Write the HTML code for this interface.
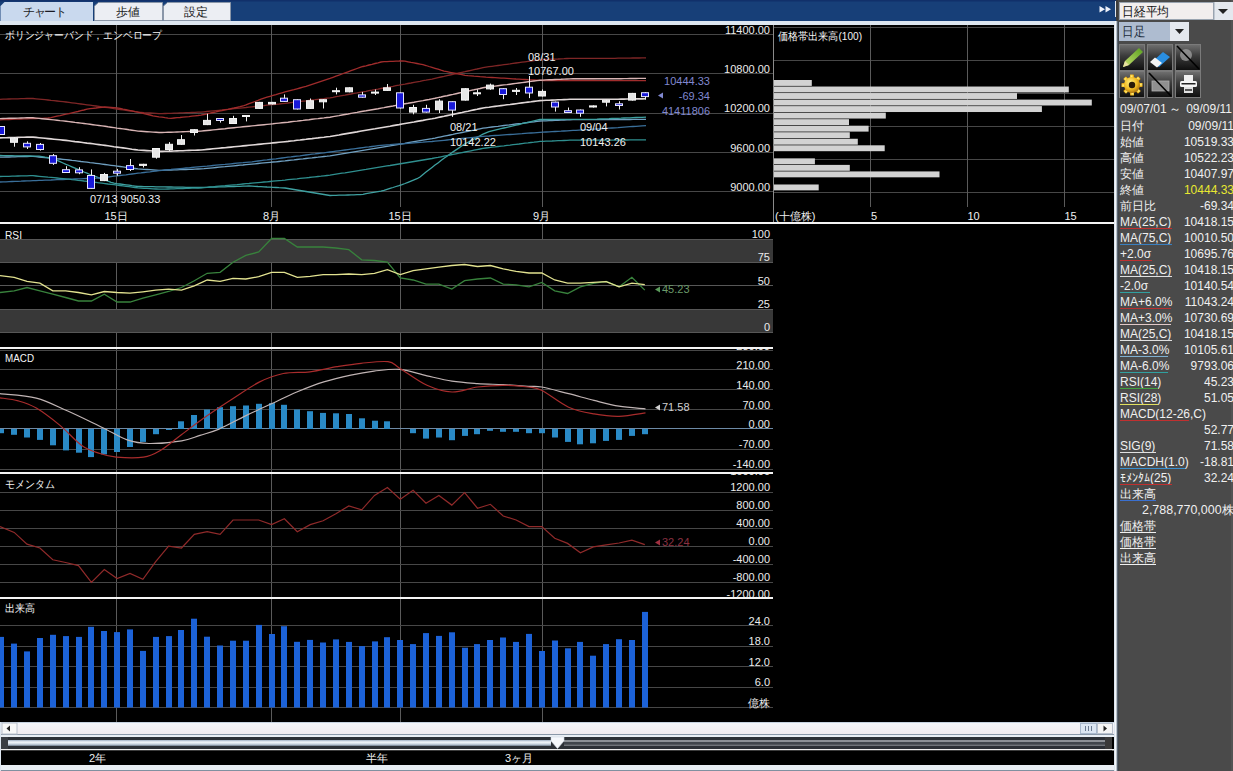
<!DOCTYPE html>
<html><head><meta charset="utf-8">
<style>
html,body{margin:0;padding:0;background:#000;width:1233px;height:771px;overflow:hidden}
svg{display:block}
text{font-family:"Liberation Sans",sans-serif}
.lb{font-size:11px;fill:#ececec;text-anchor:end}
.sb{font-size:12px;fill:#f0f0f0}
.sr{font-size:12px;fill:#f0f0f0;text-anchor:end}
</style></head><body>

<svg width="1233" height="771" viewBox="0 0 1233 771">
<rect x="0" y="0" width="1233" height="771" fill="#000"/>
<rect x="0" y="0" width="1116" height="21" fill="#173f78"/>
<rect x="0" y="0" width="1116" height="1.5" fill="#11306a"/>
<rect x="0" y="21" width="1117" height="4" fill="#dde6f0"/>
<path d="M0.5 21 V6 L4.5 2 H93 V21 Z" fill="#c9d9ee"/>
<path d="M94.5 20.5 V6 L98.5 2.5 H162.5 V20.5 Z" fill="#eceef3" stroke="#8a96a8" stroke-width="1"/>
<path d="M163.5 20.5 V6 L167.5 2.5 H230.5 V20.5 Z" fill="#eceef3" stroke="#8a96a8" stroke-width="1"/>
<g font-size="12" fill="#1a1a22" text-anchor="middle"><text x="45" y="15.5" textLength="44" lengthAdjust="spacing">チャート</text><text x="128" y="15.5" textLength="24" lengthAdjust="spacing">歩値</text><text x="196" y="15.5" textLength="24" lengthAdjust="spacing">設定</text></g>
<path d="M1099.5 6 L1105 9.3 L1099.5 12.6 Z M1105.5 6 L1111 9.3 L1105.5 12.6 Z" fill="#eef2fa"/>
<rect x="1115" y="1" width="1" height="16" fill="#dfe6f0"/>
<defs><clipPath id="cP"><rect x="0" y="25" width="1114" height="197"/></clipPath><clipPath id="cR"><rect x="0" y="224" width="1114" height="123"/></clipPath><clipPath id="cM"><rect x="0" y="349" width="1114" height="123"/></clipPath><clipPath id="cO"><rect x="0" y="474" width="1114" height="123"/></clipPath><clipPath id="cV"><rect x="0" y="599" width="1114" height="123"/></clipPath></defs>
<g><rect x="0" y="34" width="773" height="1" fill="#474747"/><rect x="0" y="73" width="773" height="1" fill="#474747"/><rect x="0" y="113" width="773" height="1" fill="#474747"/><rect x="0" y="152" width="773" height="1" fill="#474747"/><rect x="0" y="191" width="773" height="1" fill="#474747"/><rect x="774" y="27" width="340" height="1" fill="#474747"/><rect x="774" y="60" width="340" height="1" fill="#474747"/><rect x="774" y="93" width="340" height="1" fill="#474747"/><rect x="774" y="126" width="340" height="1" fill="#474747"/><rect x="774" y="159" width="340" height="1" fill="#474747"/><rect x="774" y="192" width="340" height="1" fill="#474747"/><rect x="870" y="25" width="1" height="197" fill="#5a5a5a"/><rect x="967" y="25" width="1" height="197" fill="#5a5a5a"/><rect x="1064" y="25" width="1" height="197" fill="#5a5a5a"/><rect x="773" y="25" width="1" height="197" fill="#8a8a8a"/><rect x="116" y="25" width="1" height="697" fill="#5a5a5a"/><rect x="271" y="25" width="1" height="697" fill="#5a5a5a"/><rect x="400" y="25" width="1" height="697" fill="#5a5a5a"/><rect x="542" y="25" width="1" height="697" fill="#5a5a5a"/><rect x="0" y="239" width="773" height="23" fill="#383838"/><rect x="0" y="309" width="773" height="23" fill="#383838"/><rect x="0" y="239" width="773" height="1" fill="#575757"/><rect x="0" y="262" width="773" height="1" fill="#575757"/><rect x="0" y="285" width="773" height="1" fill="#575757"/><rect x="0" y="309" width="773" height="1" fill="#575757"/><rect x="0" y="332" width="773" height="1" fill="#575757"/><rect x="0" y="350" width="773" height="1" fill="#474747"/><rect x="0" y="369" width="773" height="1" fill="#474747"/><rect x="0" y="389" width="773" height="1" fill="#474747"/><rect x="0" y="409" width="773" height="1" fill="#474747"/><rect x="0" y="449" width="773" height="1" fill="#474747"/><rect x="0" y="469" width="773" height="1" fill="#474747"/><rect x="0" y="428" width="773" height="1" fill="#6d8aa6"/><rect x="0" y="492" width="773" height="1" fill="#474747"/><rect x="0" y="510" width="773" height="1" fill="#474747"/><rect x="0" y="528" width="773" height="1" fill="#474747"/><rect x="0" y="546" width="773" height="1" fill="#474747"/><rect x="0" y="564" width="773" height="1" fill="#474747"/><rect x="0" y="582" width="773" height="1" fill="#474747"/><rect x="0" y="625" width="773" height="1" fill="#474747"/><rect x="0" y="646" width="773" height="1" fill="#474747"/><rect x="0" y="666" width="773" height="1" fill="#474747"/><rect x="0" y="687" width="773" height="1" fill="#474747"/><rect x="0" y="707" width="773" height="1" fill="#474747"/></g>
<g clip-path="url(#cP)">
<polyline fill="none" stroke="#7e2626" stroke-width="1.3" points="0.0,99.3 3.0,99.2 6.0,99.1 9.0,99.0 12.0,98.9 15.0,98.9 18.0,98.8 21.0,98.7 24.0,98.6 27.0,98.5 30.0,98.4 33.0,98.5 36.0,98.8 39.0,99.1 42.0,99.4 45.0,99.7 48.0,100.0 51.0,100.4 54.0,100.7 57.0,101.0 60.0,101.3 63.0,101.6 66.0,102.0 69.0,102.4 72.0,102.8 75.0,103.2 78.0,103.6 81.0,104.0 84.0,104.4 87.0,104.8 90.0,105.2 93.0,105.6 96.0,106.0 99.0,106.4 102.0,106.8 105.0,107.3 108.0,107.7 111.0,108.1 114.0,108.6 117.0,109.0 120.0,109.5 123.0,109.9 126.0,110.4 129.0,110.8 132.0,111.2 135.0,111.7 138.0,112.1 141.0,112.3 144.0,112.6 147.0,112.8 150.0,113.0 153.0,113.2 156.0,113.4 159.0,113.6 162.0,113.6 165.0,113.5 168.0,113.4 171.0,113.3 174.0,113.2 177.0,113.1 180.0,112.9 183.0,112.8 186.0,112.7 189.0,112.6 192.0,112.5 195.0,112.4 198.0,112.2 201.0,112.1 204.0,111.8 207.0,111.5 210.0,111.2 213.0,110.9 216.0,110.6 219.0,110.3 222.0,110.0 225.0,109.6 228.0,109.3 231.0,109.0 234.0,108.7 237.0,108.4 240.0,108.1 243.0,107.8 246.0,107.5 249.0,107.1 252.0,106.8 255.0,106.5 258.0,106.2 261.0,105.9 264.0,105.6 267.0,105.2 270.0,104.9 273.0,104.6 276.0,104.3 279.0,104.0 282.0,103.6 285.0,103.3 288.0,103.0 291.0,102.6 294.0,102.2 297.0,101.9 300.0,101.5 303.0,101.1 306.0,100.8 309.0,100.4 312.0,100.0 315.0,99.7 318.0,99.3 321.0,98.9 324.0,98.6 327.0,98.2 330.0,97.8 333.0,97.3 336.0,96.7 339.0,96.2 342.0,95.6 345.0,95.1 348.0,94.5 351.0,94.0 354.0,93.4 357.0,92.9 360.0,92.3 363.0,91.8 366.0,91.3 369.0,90.7 372.0,90.2 375.0,89.6 378.0,89.1 381.0,88.5 384.0,88.0 387.0,87.4 390.0,86.8 393.0,86.3 396.0,85.7 399.0,85.2 402.0,84.6 405.0,84.1 408.0,83.5 411.0,83.0 414.0,82.4 417.0,81.8 420.0,81.3 423.0,80.7 426.0,80.2 429.0,79.6 432.0,79.1 435.0,78.4 438.0,77.7 441.0,77.0 444.0,76.4 447.0,75.7 450.0,75.0 453.0,74.3 456.0,73.7 459.0,73.0 462.0,72.3 465.0,71.7 468.0,71.0 471.0,70.3 474.0,69.6 477.0,69.0 480.0,68.3 483.0,67.6 486.0,67.1 489.0,66.7 492.0,66.3 495.0,65.9 498.0,65.5 501.0,65.1 504.0,64.7 507.0,64.3 510.0,63.9 513.0,63.4 516.0,63.0 519.0,62.6 522.0,62.2 525.0,61.8 528.0,61.4 531.0,61.0 534.0,60.6 537.0,60.2 540.0,59.8 543.0,59.6 546.0,59.5 549.0,59.4 552.0,59.2 555.0,59.1 558.0,59.0 561.0,58.8 564.0,58.7 567.0,58.5 570.0,58.4 573.0,58.3 576.0,58.3 579.0,58.3 582.0,58.3 585.0,58.3 588.0,58.3 591.0,58.3 594.0,58.3 597.0,58.3 600.0,58.3 603.0,58.3 606.0,58.3 609.0,58.3 612.0,58.3 615.0,58.3 618.0,58.2 621.0,58.2 624.0,58.2 627.0,58.1 630.0,58.1 633.0,58.0 636.0,58.0 639.0,58.0 642.0,57.9 646.0,57.9"/>
<polyline fill="none" stroke="#a02c2c" stroke-width="1.3" points="0.0,119.8 3.0,119.7 6.0,119.6 9.0,119.5 12.0,119.4 15.0,119.2 18.0,119.1 21.0,119.0 24.0,118.9 27.0,118.8 30.0,118.7 33.0,118.6 36.0,118.5 39.0,118.4 42.0,118.3 45.0,118.1 48.0,118.0 51.0,117.6 54.0,116.9 57.0,116.2 60.0,115.6 63.0,114.9 66.0,114.2 69.0,113.6 72.0,112.9 75.0,112.2 78.0,111.5 81.0,110.7 84.0,110.0 87.0,109.2 90.0,108.6 93.0,108.3 96.0,108.0 99.0,107.6 102.0,107.3 105.0,107.0 108.0,107.2 111.0,107.4 114.0,107.6 117.0,107.8 120.0,108.4 123.0,109.1 126.0,109.7 129.0,110.3 132.0,110.9 135.0,111.6 138.0,112.2 141.0,112.9 144.0,113.6 147.0,114.3 150.0,115.0 153.0,115.8 156.0,116.3 159.0,116.8 162.0,117.2 165.0,117.7 168.0,118.1 171.0,118.3 174.0,118.0 177.0,117.7 180.0,117.5 183.0,117.2 186.0,116.9 189.0,116.6 192.0,116.2 195.0,115.8 198.0,115.5 201.0,115.1 204.0,114.5 207.0,113.8 210.0,113.2 213.0,112.5 216.0,111.9 219.0,111.2 222.0,110.6 225.0,109.9 228.0,109.3 231.0,108.6 234.0,108.0 237.0,107.3 240.0,106.7 243.0,106.0 246.0,104.9 249.0,103.7 252.0,102.6 255.0,101.5 258.0,100.4 261.0,99.2 264.0,98.1 267.0,97.2 270.0,96.3 273.0,95.4 276.0,94.6 279.0,93.7 282.0,92.8 285.0,91.9 288.0,91.1 291.0,90.3 294.0,89.6 297.0,88.8 300.0,88.0 303.0,87.2 306.0,86.4 309.0,85.4 312.0,84.4 315.0,83.4 318.0,82.4 321.0,81.4 324.0,80.4 327.0,79.4 330.0,78.4 333.0,77.3 336.0,76.2 339.0,75.1 342.0,74.0 345.0,72.9 348.0,71.8 351.0,70.7 354.0,69.6 357.0,68.5 360.0,67.4 363.0,66.5 366.0,65.8 369.0,65.0 372.0,64.3 375.0,63.5 378.0,62.8 381.0,62.0 384.0,61.7 387.0,61.6 390.0,61.4 393.0,61.3 396.0,61.1 399.0,61.0 402.0,60.8 405.0,61.2 408.0,61.8 411.0,62.4 414.0,62.9 417.0,63.5 420.0,64.1 423.0,64.7 426.0,65.5 429.0,66.5 432.0,67.4 435.0,68.3 438.0,69.2 441.0,70.2 444.0,71.1 447.0,71.7 450.0,72.3 453.0,72.9 456.0,73.5 459.0,74.1 462.0,74.7 465.0,75.3 468.0,75.6 471.0,75.8 474.0,76.1 477.0,76.3 480.0,76.6 483.0,76.8 486.0,77.1 489.0,77.3 492.0,77.5 495.0,77.7 498.0,77.9 501.0,78.1 504.0,78.2 507.0,78.4 510.0,78.6 513.0,78.8 516.0,79.0 519.0,79.1 522.0,79.3 525.0,79.5 528.0,79.7 531.0,79.8 534.0,80.0 537.0,80.2 540.0,80.4 543.0,80.5 546.0,80.5 549.0,80.5 552.0,80.5 555.0,80.5 558.0,80.5 561.0,80.5 564.0,80.5 567.0,80.5 570.0,80.5 573.0,80.5 576.0,80.5 579.0,80.5 582.0,80.5 585.0,80.5 588.0,80.5 591.0,80.5 594.0,80.5 597.0,80.6 600.0,80.6 603.0,80.6 606.0,80.6 609.0,80.6 612.0,80.6 615.0,80.6 618.0,80.6 621.0,80.6 624.0,80.6 627.0,80.6 630.0,80.6 633.0,80.6 636.0,80.6 639.0,80.6 642.0,80.6 646.0,80.6"/>
<polyline fill="none" stroke="#d8b4b4" stroke-width="1.4" points="0.0,118.6 3.0,118.5 6.0,118.4 9.0,118.3 12.0,118.3 15.0,118.2 18.0,118.1 21.0,118.0 24.0,117.9 27.0,117.8 30.0,117.7 33.0,117.8 36.0,118.1 39.0,118.4 42.0,118.7 45.0,119.0 48.0,119.3 51.0,119.6 54.0,119.9 57.0,120.2 60.0,120.6 63.0,120.9 66.0,121.2 69.0,121.6 72.0,122.0 75.0,122.4 78.0,122.7 81.0,123.1 84.0,123.5 87.0,123.9 90.0,124.3 93.0,124.7 96.0,125.1 99.0,125.5 102.0,125.9 105.0,126.3 108.0,126.8 111.0,127.2 114.0,127.6 117.0,128.1 120.0,128.5 123.0,128.9 126.0,129.3 129.0,129.8 132.0,130.2 135.0,130.6 138.0,131.1 141.0,131.3 144.0,131.5 147.0,131.7 150.0,131.9 153.0,132.1 156.0,132.3 159.0,132.5 162.0,132.5 165.0,132.4 168.0,132.3 171.0,132.2 174.0,132.1 177.0,132.0 180.0,131.9 183.0,131.7 186.0,131.6 189.0,131.5 192.0,131.4 195.0,131.3 198.0,131.2 201.0,131.1 204.0,130.8 207.0,130.5 210.0,130.2 213.0,129.9 216.0,129.6 219.0,129.3 222.0,129.0 225.0,128.7 228.0,128.3 231.0,128.0 234.0,127.7 237.0,127.4 240.0,127.1 243.0,126.8 246.0,126.5 249.0,126.2 252.0,125.9 255.0,125.6 258.0,125.3 261.0,125.0 264.0,124.7 267.0,124.4 270.0,124.1 273.0,123.8 276.0,123.4 279.0,123.1 282.0,122.8 285.0,122.5 288.0,122.2 291.0,121.8 294.0,121.4 297.0,121.1 300.0,120.7 303.0,120.4 306.0,120.0 309.0,119.7 312.0,119.3 315.0,118.9 318.0,118.6 321.0,118.2 324.0,117.9 327.0,117.5 330.0,117.2 333.0,116.6 336.0,116.1 339.0,115.6 342.0,115.0 345.0,114.5 348.0,114.0 351.0,113.4 354.0,112.9 357.0,112.4 360.0,111.8 363.0,111.3 366.0,110.8 369.0,110.2 372.0,109.7 375.0,109.2 378.0,108.7 381.0,108.1 384.0,107.6 387.0,107.0 390.0,106.5 393.0,106.0 396.0,105.4 399.0,104.9 402.0,104.3 405.0,103.8 408.0,103.3 411.0,102.7 414.0,102.2 417.0,101.6 420.0,101.1 423.0,100.6 426.0,100.0 429.0,99.5 432.0,98.9 435.0,98.3 438.0,97.6 441.0,97.0 444.0,96.3 447.0,95.7 450.0,95.0 453.0,94.4 456.0,93.7 459.0,93.0 462.0,92.4 465.0,91.7 468.0,91.1 471.0,90.4 474.0,89.8 477.0,89.1 480.0,88.5 483.0,87.8 486.0,87.3 489.0,86.9 492.0,86.5 495.0,86.1 498.0,85.7 501.0,85.3 504.0,84.9 507.0,84.6 510.0,84.2 513.0,83.8 516.0,83.4 519.0,83.0 522.0,82.6 525.0,82.2 528.0,81.8 531.0,81.4 534.0,81.0 537.0,80.6 540.0,80.2 543.0,80.1 546.0,79.9 549.0,79.8 552.0,79.7 555.0,79.5 558.0,79.4 561.0,79.3 564.0,79.1 567.0,79.0 570.0,78.9 573.0,78.7 576.0,78.7 579.0,78.7 582.0,78.7 585.0,78.7 588.0,78.7 591.0,78.7 594.0,78.7 597.0,78.7 600.0,78.7 603.0,78.7 606.0,78.7 609.0,78.7 612.0,78.7 615.0,78.7 618.0,78.7 621.0,78.7 624.0,78.6 627.0,78.6 630.0,78.5 633.0,78.5 636.0,78.5 639.0,78.4 642.0,78.4 646.0,78.4"/>
<polyline fill="none" stroke="#e0d8d8" stroke-width="1.6" points="0.0,137.9 3.0,137.8 6.0,137.7 9.0,137.6 12.0,137.6 15.0,137.5 18.0,137.4 21.0,137.3 24.0,137.2 27.0,137.1 30.0,137.1 33.0,137.1 36.0,137.4 39.0,137.7 42.0,138.0 45.0,138.3 48.0,138.6 51.0,138.9 54.0,139.2 57.0,139.5 60.0,139.8 63.0,140.1 66.0,140.4 69.0,140.8 72.0,141.2 75.0,141.6 78.0,141.9 81.0,142.3 84.0,142.7 87.0,143.1 90.0,143.4 93.0,143.8 96.0,144.2 99.0,144.6 102.0,145.0 105.0,145.4 108.0,145.8 111.0,146.2 114.0,146.7 117.0,147.1 120.0,147.5 123.0,147.9 126.0,148.3 129.0,148.7 132.0,149.2 135.0,149.6 138.0,150.0 141.0,150.2 144.0,150.4 147.0,150.6 150.0,150.8 153.0,151.0 156.0,151.2 159.0,151.4 162.0,151.4 165.0,151.3 168.0,151.2 171.0,151.1 174.0,151.0 177.0,150.9 180.0,150.8 183.0,150.7 186.0,150.5 189.0,150.4 192.0,150.3 195.0,150.2 198.0,150.1 201.0,150.0 204.0,149.7 207.0,149.4 210.0,149.1 213.0,148.8 216.0,148.5 219.0,148.2 222.0,147.9 225.0,147.7 228.0,147.4 231.0,147.1 234.0,146.8 237.0,146.5 240.0,146.2 243.0,145.9 246.0,145.6 249.0,145.3 252.0,145.0 255.0,144.7 258.0,144.4 261.0,144.1 264.0,143.8 267.0,143.5 270.0,143.2 273.0,142.9 276.0,142.6 279.0,142.3 282.0,142.0 285.0,141.7 288.0,141.4 291.0,141.0 294.0,140.7 297.0,140.3 300.0,140.0 303.0,139.6 306.0,139.3 309.0,138.9 312.0,138.6 315.0,138.2 318.0,137.9 321.0,137.5 324.0,137.2 327.0,136.8 330.0,136.5 333.0,136.0 336.0,135.5 339.0,135.0 342.0,134.4 345.0,133.9 348.0,133.4 351.0,132.9 354.0,132.4 357.0,131.9 360.0,131.3 363.0,130.8 366.0,130.3 369.0,129.8 372.0,129.3 375.0,128.8 378.0,128.2 381.0,127.7 384.0,127.2 387.0,126.7 390.0,126.2 393.0,125.6 396.0,125.1 399.0,124.6 402.0,124.0 405.0,123.5 408.0,123.0 411.0,122.5 414.0,122.0 417.0,121.4 420.0,120.9 423.0,120.4 426.0,119.8 429.0,119.3 432.0,118.8 435.0,118.2 438.0,117.5 441.0,116.9 444.0,116.3 447.0,115.6 450.0,115.0 453.0,114.4 456.0,113.7 459.0,113.1 462.0,112.5 465.0,111.8 468.0,111.2 471.0,110.5 474.0,109.9 477.0,109.3 480.0,108.6 483.0,108.0 486.0,107.5 489.0,107.2 492.0,106.8 495.0,106.4 498.0,106.0 501.0,105.6 504.0,105.2 507.0,104.8 510.0,104.5 513.0,104.1 516.0,103.7 519.0,103.3 522.0,102.9 525.0,102.5 528.0,102.1 531.0,101.8 534.0,101.4 537.0,101.0 540.0,100.6 543.0,100.5 546.0,100.3 549.0,100.2 552.0,100.1 555.0,100.0 558.0,99.8 561.0,99.7 564.0,99.6 567.0,99.5 570.0,99.3 573.0,99.2 576.0,99.2 579.0,99.2 582.0,99.2 585.0,99.2 588.0,99.2 591.0,99.2 594.0,99.2 597.0,99.2 600.0,99.2 603.0,99.2 606.0,99.2 609.0,99.2 612.0,99.2 615.0,99.2 618.0,99.2 621.0,99.1 624.0,99.1 627.0,99.0 630.0,99.0 633.0,99.0 636.0,98.9 639.0,98.9 642.0,98.9 646.0,98.8"/>
<polyline fill="none" stroke="#6f9fc0" stroke-width="1.3" points="0.0,157.2 3.0,157.1 6.0,157.0 9.0,157.0 12.0,156.9 15.0,156.8 18.0,156.7 21.0,156.6 24.0,156.5 27.0,156.5 30.0,156.4 33.0,156.4 36.0,156.7 39.0,157.0 42.0,157.3 45.0,157.6 48.0,157.9 51.0,158.2 54.0,158.5 57.0,158.8 60.0,159.0 63.0,159.3 66.0,159.6 69.0,160.0 72.0,160.4 75.0,160.7 78.0,161.1 81.0,161.5 84.0,161.8 87.0,162.2 90.0,162.6 93.0,162.9 96.0,163.3 99.0,163.7 102.0,164.1 105.0,164.5 108.0,164.9 111.0,165.3 114.0,165.7 117.0,166.1 120.0,166.5 123.0,166.9 126.0,167.3 129.0,167.7 132.0,168.1 135.0,168.5 138.0,168.9 141.0,169.1 144.0,169.3 147.0,169.5 150.0,169.7 153.0,169.9 156.0,170.1 159.0,170.3 162.0,170.3 165.0,170.2 168.0,170.1 171.0,170.0 174.0,169.9 177.0,169.8 180.0,169.7 183.0,169.6 186.0,169.5 189.0,169.4 192.0,169.3 195.0,169.1 198.0,169.0 201.0,168.9 204.0,168.7 207.0,168.4 210.0,168.1 213.0,167.8 216.0,167.5 219.0,167.2 222.0,166.9 225.0,166.7 228.0,166.4 231.0,166.1 234.0,165.8 237.0,165.5 240.0,165.2 243.0,165.0 246.0,164.7 249.0,164.4 252.0,164.1 255.0,163.8 258.0,163.5 261.0,163.2 264.0,162.9 267.0,162.6 270.0,162.3 273.0,162.0 276.0,161.8 279.0,161.5 282.0,161.2 285.0,160.9 288.0,160.5 291.0,160.2 294.0,159.9 297.0,159.5 300.0,159.2 303.0,158.9 306.0,158.5 309.0,158.2 312.0,157.9 315.0,157.5 318.0,157.2 321.0,156.8 324.0,156.5 327.0,156.2 330.0,155.8 333.0,155.3 336.0,154.8 339.0,154.3 342.0,153.8 345.0,153.3 348.0,152.8 351.0,152.3 354.0,151.8 357.0,151.3 360.0,150.8 363.0,150.3 366.0,149.8 369.0,149.3 372.0,148.8 375.0,148.3 378.0,147.8 381.0,147.3 384.0,146.8 387.0,146.3 390.0,145.8 393.0,145.3 396.0,144.8 399.0,144.3 402.0,143.8 405.0,143.3 408.0,142.7 411.0,142.2 414.0,141.7 417.0,141.2 420.0,140.7 423.0,140.2 426.0,139.7 429.0,139.2 432.0,138.7 435.0,138.1 438.0,137.4 441.0,136.8 444.0,136.2 447.0,135.6 450.0,135.0 453.0,134.4 456.0,133.7 459.0,133.1 462.0,132.5 465.0,131.9 468.0,131.3 471.0,130.7 474.0,130.1 477.0,129.4 480.0,128.8 483.0,128.2 486.0,127.8 489.0,127.4 492.0,127.0 495.0,126.6 498.0,126.3 501.0,125.9 504.0,125.5 507.0,125.1 510.0,124.8 513.0,124.4 516.0,124.0 519.0,123.6 522.0,123.3 525.0,122.9 528.0,122.5 531.0,122.1 534.0,121.8 537.0,121.4 540.0,121.0 543.0,120.9 546.0,120.8 549.0,120.6 552.0,120.5 555.0,120.4 558.0,120.3 561.0,120.2 564.0,120.0 567.0,119.9 570.0,119.8 573.0,119.7 576.0,119.7 579.0,119.7 582.0,119.7 585.0,119.7 588.0,119.7 591.0,119.7 594.0,119.7 597.0,119.7 600.0,119.7 603.0,119.7 606.0,119.7 609.0,119.7 612.0,119.7 615.0,119.6 618.0,119.6 621.0,119.6 624.0,119.5 627.0,119.5 630.0,119.5 633.0,119.4 636.0,119.4 639.0,119.4 642.0,119.3 646.0,119.3"/>
<polyline fill="none" stroke="#3ea0a0" stroke-width="1.3" points="0.0,155.5 3.0,155.6 6.0,155.6 9.0,155.7 12.0,155.7 15.0,155.8 18.0,155.8 21.0,155.9 24.0,155.9 27.0,156.0 30.0,156.0 33.0,156.1 36.0,156.1 39.0,156.2 42.0,156.6 45.0,157.2 48.0,157.7 51.0,158.3 54.0,159.1 57.0,160.4 60.0,161.7 63.0,163.0 66.0,164.3 69.0,165.5 72.0,166.8 75.0,168.1 78.0,169.4 81.0,170.7 84.0,172.0 87.0,173.2 90.0,174.5 93.0,175.6 96.0,176.7 99.0,177.8 102.0,178.9 105.0,180.0 108.0,181.1 111.0,182.3 114.0,183.1 117.0,183.6 120.0,184.0 123.0,184.4 126.0,184.8 129.0,185.2 132.0,185.7 135.0,186.1 138.0,186.5 141.0,186.5 144.0,186.6 147.0,186.6 150.0,186.7 153.0,186.7 156.0,186.8 159.0,186.8 162.0,186.9 165.0,186.9 168.0,187.0 171.0,187.0 174.0,187.1 177.0,187.1 180.0,187.2 183.0,187.2 186.0,187.3 189.0,187.3 192.0,187.4 195.0,187.4 198.0,187.5 201.0,187.5 204.0,187.4 207.0,187.3 210.0,187.2 213.0,187.1 216.0,187.0 219.0,186.9 222.0,186.8 225.0,186.8 228.0,186.7 231.0,186.6 234.0,186.5 237.0,186.4 240.0,186.3 243.0,186.2 246.0,186.1 249.0,186.0 252.0,186.1 255.0,186.3 258.0,186.5 261.0,186.6 264.0,186.8 267.0,187.0 270.0,187.1 273.0,187.3 276.0,187.5 279.0,187.7 282.0,187.8 285.0,188.0 288.0,188.5 291.0,189.0 294.0,189.5 297.0,190.0 300.0,190.5 303.0,191.0 306.0,191.5 309.0,192.0 312.0,192.5 315.0,193.0 318.0,193.5 321.0,194.0 324.0,194.5 327.0,195.0 330.0,195.5 333.0,195.4 336.0,195.3 339.0,195.2 342.0,195.2 345.0,195.1 348.0,195.0 351.0,194.9 354.0,194.8 357.0,194.7 360.0,194.6 363.0,194.3 366.0,193.7 369.0,193.2 372.0,192.7 375.0,192.2 378.0,191.7 381.0,191.2 384.0,190.4 387.0,189.4 390.0,188.4 393.0,187.5 396.0,186.5 399.0,185.6 402.0,184.6 405.0,183.5 408.0,182.3 411.0,181.1 414.0,179.9 417.0,178.7 420.0,177.0 423.0,174.4 426.0,172.0 429.0,169.7 432.0,167.4 435.0,165.1 438.0,162.9 441.0,160.6 444.0,158.3 447.0,156.2 450.0,154.0 453.0,151.9 456.0,149.9 459.0,147.9 462.0,145.8 465.0,143.8 468.0,142.2 471.0,140.6 474.0,139.0 477.0,137.4 480.0,135.8 483.0,134.2 486.0,132.9 489.0,131.7 492.0,130.8 495.0,130.1 498.0,129.4 501.0,128.7 504.0,128.0 507.0,127.3 510.0,126.6 513.0,125.9 516.0,125.2 519.0,124.5 522.0,123.7 525.0,123.0 528.0,122.3 531.0,121.6 534.0,120.9 537.0,120.2 540.0,119.5 543.0,119.5 546.0,119.5 549.0,119.5 552.0,119.5 555.0,119.4 558.0,119.4 561.0,119.4 564.0,119.4 567.0,119.4 570.0,119.4 573.0,119.4 576.0,119.4 579.0,119.4 582.0,119.3 585.0,119.3 588.0,119.3 591.0,119.3 594.0,119.3 597.0,119.2 600.0,119.0 603.0,118.9 606.0,118.8 609.0,118.7 612.0,118.5 615.0,118.4 618.0,118.3 621.0,118.2 624.0,118.0 627.0,117.9 630.0,117.8 633.0,117.6 636.0,117.5 639.0,117.4 642.0,117.3 646.0,117.1"/>
<polyline fill="none" stroke="#3a6f9a" stroke-width="1.3" points="0.0,182.0 3.0,181.9 6.0,181.8 9.0,181.6 12.0,181.5 15.0,181.4 18.0,181.3 21.0,181.2 24.0,181.0 27.0,180.9 30.0,180.8 33.0,180.7 36.0,180.6 39.0,180.4 42.0,180.3 45.0,180.2 48.0,180.1 51.0,180.0 54.0,179.8 57.0,179.7 60.0,179.6 63.0,179.5 66.0,179.4 69.0,179.2 72.0,179.1 75.0,179.0 78.0,178.9 81.0,178.8 84.0,178.6 87.0,178.5 90.0,178.4 93.0,178.3 96.0,178.2 99.0,178.0 102.0,177.8 105.0,177.4 108.0,177.0 111.0,176.6 114.0,176.2 117.0,175.9 120.0,175.5 123.0,175.1 126.0,174.8 129.0,174.4 132.0,174.0 135.0,173.6 138.0,173.2 141.0,172.9 144.0,172.5 147.0,172.1 150.0,171.8 153.0,171.4 156.0,171.0 159.0,170.6 162.0,170.3 165.0,170.0 168.0,169.7 171.0,169.5 174.0,169.2 177.0,168.9 180.0,168.6 183.0,168.3 186.0,168.0 189.0,167.8 192.0,167.5 195.0,167.2 198.0,166.9 201.0,166.6 204.0,166.3 207.0,166.1 210.0,165.8 213.0,165.5 216.0,165.2 219.0,164.9 222.0,164.6 225.0,164.4 228.0,164.1 231.0,163.8 234.0,163.5 237.0,163.2 240.0,162.9 243.0,162.7 246.0,162.4 249.0,162.1 252.0,161.8 255.0,161.4 258.0,161.0 261.0,160.6 264.0,160.2 267.0,159.9 270.0,159.5 273.0,159.1 276.0,158.8 279.0,158.4 282.0,158.0 285.0,157.6 288.0,157.2 291.0,156.9 294.0,156.5 297.0,156.1 300.0,155.8 303.0,155.4 306.0,155.0 309.0,154.6 312.0,154.2 315.0,153.9 318.0,153.5 321.0,153.1 324.0,152.8 327.0,152.4 330.0,152.0 333.0,151.6 336.0,151.2 339.0,150.8 342.0,150.4 345.0,150.0 348.0,149.6 351.0,149.2 354.0,148.8 357.0,148.4 360.0,148.0 363.0,147.6 366.0,147.2 369.0,146.9 372.0,146.5 375.0,146.1 378.0,145.7 381.0,145.3 384.0,145.1 387.0,144.9 390.0,144.7 393.0,144.4 396.0,144.2 399.0,144.0 402.0,143.8 405.0,143.5 408.0,143.3 411.0,143.1 414.0,142.8 417.0,142.6 420.0,142.4 423.0,142.2 426.0,141.9 429.0,141.7 432.0,141.5 435.0,141.2 438.0,140.9 441.0,140.6 444.0,140.3 447.0,140.0 450.0,139.7 453.0,139.4 456.0,139.1 459.0,138.8 462.0,138.5 465.0,138.2 468.0,137.9 471.0,137.6 474.0,137.3 477.0,137.0 480.0,136.7 483.0,136.4 486.0,136.2 489.0,136.0 492.0,135.7 495.0,135.5 498.0,135.3 501.0,135.1 504.0,134.9 507.0,134.7 510.0,134.5 513.0,134.3 516.0,134.1 519.0,133.9 522.0,133.7 525.0,133.4 528.0,133.2 531.0,133.0 534.0,132.8 537.0,132.6 540.0,132.4 543.0,132.2 546.0,132.0 549.0,131.9 552.0,131.7 555.0,131.5 558.0,131.3 561.0,131.2 564.0,131.0 567.0,130.8 570.0,130.6 573.0,130.4 576.0,130.3 579.0,130.1 582.0,129.9 585.0,129.7 588.0,129.6 591.0,129.4 594.0,129.2 597.0,129.0 600.0,128.8 603.0,128.6 606.0,128.4 609.0,128.2 612.0,128.0 615.0,127.8 618.0,127.6 621.0,127.3 624.0,127.1 627.0,126.9 630.0,126.7 633.0,126.5 636.0,126.3 639.0,126.1 642.0,125.9 646.0,125.6"/>
<polyline fill="none" stroke="#2f8f8f" stroke-width="1.3" points="0.0,176.5 3.0,176.4 6.0,176.3 9.0,176.3 12.0,176.2 15.0,176.1 18.0,176.0 21.0,175.9 24.0,175.9 27.0,175.8 30.0,175.7 33.0,175.7 36.0,176.0 39.0,176.3 42.0,176.6 45.0,176.9 48.0,177.2 51.0,177.4 54.0,177.7 57.0,178.0 60.0,178.3 63.0,178.6 66.0,178.9 69.0,179.2 72.0,179.6 75.0,179.9 78.0,180.3 81.0,180.6 84.0,181.0 87.0,181.3 90.0,181.7 93.0,182.0 96.0,182.4 99.0,182.8 102.0,183.2 105.0,183.6 108.0,184.0 111.0,184.3 114.0,184.7 117.0,185.1 120.0,185.5 123.0,185.9 126.0,186.3 129.0,186.7 132.0,187.1 135.0,187.5 138.0,187.9 141.0,188.1 144.0,188.3 147.0,188.4 150.0,188.6 153.0,188.8 156.0,189.0 159.0,189.2 162.0,189.2 165.0,189.1 168.0,189.0 171.0,188.9 174.0,188.8 177.0,188.7 180.0,188.6 183.0,188.5 186.0,188.4 189.0,188.3 192.0,188.2 195.0,188.1 198.0,188.0 201.0,187.9 204.0,187.6 207.0,187.3 210.0,187.0 213.0,186.8 216.0,186.5 219.0,186.2 222.0,185.9 225.0,185.7 228.0,185.4 231.0,185.1 234.0,184.8 237.0,184.6 240.0,184.3 243.0,184.0 246.0,183.7 249.0,183.5 252.0,183.2 255.0,182.9 258.0,182.6 261.0,182.3 264.0,182.0 267.0,181.8 270.0,181.5 273.0,181.2 276.0,180.9 279.0,180.6 282.0,180.4 285.0,180.1 288.0,179.7 291.0,179.4 294.0,179.1 297.0,178.8 300.0,178.4 303.0,178.1 306.0,177.8 309.0,177.5 312.0,177.1 315.0,176.8 318.0,176.5 321.0,176.2 324.0,175.8 327.0,175.5 330.0,175.2 333.0,174.7 336.0,174.2 339.0,173.7 342.0,173.2 345.0,172.8 348.0,172.3 351.0,171.8 354.0,171.3 357.0,170.8 360.0,170.3 363.0,169.8 366.0,169.4 369.0,168.9 372.0,168.4 375.0,167.9 378.0,167.4 381.0,166.9 384.0,166.4 387.0,165.9 390.0,165.5 393.0,165.0 396.0,164.5 399.0,164.0 402.0,163.5 405.0,163.0 408.0,162.5 411.0,162.0 414.0,161.5 417.0,161.0 420.0,160.5 423.0,160.0 426.0,159.5 429.0,159.0 432.0,158.5 435.0,157.9 438.0,157.4 441.0,156.8 444.0,156.2 447.0,155.6 450.0,155.0 453.0,154.4 456.0,153.8 459.0,153.2 462.0,152.6 465.0,152.0 468.0,151.4 471.0,150.8 474.0,150.2 477.0,149.6 480.0,149.0 483.0,148.4 486.0,148.0 489.0,147.6 492.0,147.2 495.0,146.9 498.0,146.5 501.0,146.1 504.0,145.8 507.0,145.4 510.0,145.1 513.0,144.7 516.0,144.3 519.0,144.0 522.0,143.6 525.0,143.2 528.0,142.9 531.0,142.5 534.0,142.2 537.0,141.8 540.0,141.4 543.0,141.3 546.0,141.2 549.0,141.1 552.0,141.0 555.0,140.8 558.0,140.7 561.0,140.6 564.0,140.5 567.0,140.4 570.0,140.2 573.0,140.1 576.0,140.1 579.0,140.1 582.0,140.1 585.0,140.1 588.0,140.1 591.0,140.1 594.0,140.1 597.0,140.1 600.0,140.1 603.0,140.1 606.0,140.1 609.0,140.1 612.0,140.1 615.0,140.1 618.0,140.1 621.0,140.0 624.0,140.0 627.0,140.0 630.0,139.9 633.0,139.9 636.0,139.9 639.0,139.8 642.0,139.8 646.0,139.8"/>
<g><rect x="1" y="126.0" width="1" height="9.0" fill="#f0f0f0"/><rect x="-2.5" y="126.5" width="7" height="8.0" fill="#1818d8" stroke="#e6e6ff" stroke-width="1"/><rect x="14" y="137.0" width="1" height="9.7" fill="#f0f0f0"/><rect x="10.5" y="138.1" width="7" height="4.2" fill="#e6e6e6" stroke="#f4f4f4" stroke-width="1"/><rect x="27" y="141.3" width="1" height="7.7" fill="#f0f0f0"/><rect x="23.5" y="143.3" width="7" height="3.6" fill="#1818d8" stroke="#e6e6ff" stroke-width="1"/><rect x="40" y="143.0" width="1" height="7.6" fill="#f0f0f0"/><rect x="36.5" y="144.4" width="7" height="5.1" fill="#1818d8" stroke="#e6e6ff" stroke-width="1"/><rect x="53" y="154.0" width="1" height="10.9" fill="#f0f0f0"/><rect x="49.5" y="155.7" width="7" height="7.6" fill="#1818d8" stroke="#e6e6ff" stroke-width="1"/><rect x="66" y="166.2" width="1" height="6.8" fill="#f0f0f0"/><rect x="62.5" y="169.7" width="7" height="2.8" fill="#1818d8" stroke="#e6e6ff" stroke-width="1"/><rect x="79" y="167.2" width="1" height="7.0" fill="#f0f0f0"/><rect x="75.5" y="169.9" width="7" height="2.9" fill="#1818d8" stroke="#e6e6ff" stroke-width="1"/><rect x="91" y="169.4" width="1" height="19.5" fill="#f0f0f0"/><rect x="87.5" y="175.5" width="7" height="12.9" fill="#1818d8" stroke="#e6e6ff" stroke-width="1"/><rect x="104" y="172.9" width="1" height="8.2" fill="#f0f0f0"/><rect x="100.5" y="174.5" width="7" height="6.1" fill="#e6e6e6" stroke="#f4f4f4" stroke-width="1"/><rect x="117" y="168.9" width="1" height="6.8" fill="#f0f0f0"/><rect x="113.5" y="171.2" width="7" height="2.0" fill="#1818d8" stroke="#e6e6ff" stroke-width="1"/><rect x="130" y="159.0" width="1" height="12.0" fill="#f0f0f0"/><rect x="126.5" y="165.6" width="7" height="3.9" fill="#1818d8" stroke="#e6e6ff" stroke-width="1"/><rect x="143" y="163.8" width="1" height="3.7" fill="#f0f0f0"/><rect x="139.5" y="164.3" width="7" height="1.1" fill="#e6e6e6" stroke="#f4f4f4" stroke-width="1"/><rect x="156" y="148.0" width="1" height="10.7" fill="#f0f0f0"/><rect x="152.5" y="148.5" width="7" height="8.7" fill="#e6e6e6" stroke="#f4f4f4" stroke-width="1"/><rect x="169" y="142.1" width="1" height="8.9" fill="#f0f0f0"/><rect x="165.5" y="144.3" width="7" height="5.2" fill="#e6e6e6" stroke="#f4f4f4" stroke-width="1"/><rect x="181" y="135.0" width="1" height="9.8" fill="#f0f0f0"/><rect x="177.5" y="139.7" width="7" height="4.6" fill="#e6e6e6" stroke="#f4f4f4" stroke-width="1"/><rect x="194" y="129.2" width="1" height="6.3" fill="#f0f0f0"/><rect x="190.5" y="129.7" width="7" height="2.8" fill="#e6e6e6" stroke="#f4f4f4" stroke-width="1"/><rect x="207" y="113.7" width="1" height="11.4" fill="#f0f0f0"/><rect x="203.5" y="120.4" width="7" height="4.2" fill="#e6e6e6" stroke="#f4f4f4" stroke-width="1"/><rect x="220" y="118.0" width="1" height="4.6" fill="#f0f0f0"/><rect x="216.5" y="118.5" width="7" height="2.0" fill="#1818d8" stroke="#e6e6ff" stroke-width="1"/><rect x="233" y="115.8" width="1" height="8.2" fill="#f0f0f0"/><rect x="229.5" y="118.5" width="7" height="5.0" fill="#e6e6e6" stroke="#f4f4f4" stroke-width="1"/><rect x="246" y="115.0" width="1" height="6.4" fill="#f0f0f0"/><rect x="242.5" y="115.5" width="7" height="1.0" fill="#e6e6e6" stroke="#f4f4f4" stroke-width="1"/><rect x="259" y="101.9" width="1" height="7.0" fill="#f0f0f0"/><rect x="255.5" y="102.4" width="7" height="6.0" fill="#e6e6e6" stroke="#f4f4f4" stroke-width="1"/><rect x="272" y="101.9" width="1" height="2.6" fill="#f0f0f0"/><rect x="268.5" y="102.4" width="7" height="1.6" fill="#e6e6e6" stroke="#f4f4f4" stroke-width="1"/><rect x="284" y="94.4" width="1" height="7.5" fill="#f0f0f0"/><rect x="280.5" y="98.2" width="7" height="3.2" fill="#1818d8" stroke="#e6e6ff" stroke-width="1"/><rect x="297" y="99.2" width="1" height="10.3" fill="#f0f0f0"/><rect x="293.5" y="99.7" width="7" height="9.3" fill="#1818d8" stroke="#e6e6ff" stroke-width="1"/><rect x="310" y="98.5" width="1" height="10.4" fill="#f0f0f0"/><rect x="306.5" y="100.7" width="7" height="7.7" fill="#e6e6e6" stroke="#f4f4f4" stroke-width="1"/><rect x="323" y="99.2" width="1" height="9.3" fill="#f0f0f0"/><rect x="319.5" y="99.7" width="7" height="2.1" fill="#e6e6e6" stroke="#f4f4f4" stroke-width="1"/><rect x="336" y="87.7" width="1" height="6.7" fill="#f0f0f0"/><rect x="332.5" y="90.7" width="7" height="1.0" fill="#e6e6e6" stroke="#f4f4f4" stroke-width="1"/><rect x="349" y="87.3" width="1" height="5.0" fill="#f0f0f0"/><rect x="345.5" y="87.8" width="7" height="4.0" fill="#e6e6e6" stroke="#f4f4f4" stroke-width="1"/><rect x="362" y="91.9" width="1" height="5.8" fill="#f0f0f0"/><rect x="358.5" y="94.9" width="7" height="2.3" fill="#1818d8" stroke="#e6e6ff" stroke-width="1"/><rect x="375" y="89.5" width="1" height="5.5" fill="#f0f0f0"/><rect x="371.5" y="92.1" width="7" height="1.0" fill="#e6e6e6" stroke="#f4f4f4" stroke-width="1"/><rect x="387" y="84.0" width="1" height="6.9" fill="#f0f0f0"/><rect x="383.5" y="87.8" width="7" height="2.6" fill="#e6e6e6" stroke="#f4f4f4" stroke-width="1"/><rect x="400" y="92.3" width="1" height="16.2" fill="#f0f0f0"/><rect x="396.5" y="92.8" width="7" height="15.2" fill="#1818d8" stroke="#e6e6ff" stroke-width="1"/><rect x="413" y="104.8" width="1" height="9.5" fill="#f0f0f0"/><rect x="409.5" y="107.5" width="7" height="4.6" fill="#e6e6e6" stroke="#f4f4f4" stroke-width="1"/><rect x="426" y="104.8" width="1" height="7.8" fill="#f0f0f0"/><rect x="422.5" y="108.4" width="7" height="3.7" fill="#1818d8" stroke="#e6e6ff" stroke-width="1"/><rect x="439" y="99.2" width="1" height="13.8" fill="#f0f0f0"/><rect x="435.5" y="101.1" width="7" height="8.6" fill="#e6e6e6" stroke="#f4f4f4" stroke-width="1"/><rect x="452" y="101.2" width="1" height="15.7" fill="#f0f0f0"/><rect x="448.5" y="101.7" width="7" height="8.4" fill="#1818d8" stroke="#e6e6ff" stroke-width="1"/><rect x="465" y="88.2" width="1" height="12.4" fill="#f0f0f0"/><rect x="461.5" y="88.7" width="7" height="11.4" fill="#e6e6e6" stroke="#f4f4f4" stroke-width="1"/><rect x="477" y="89.4" width="1" height="6.6" fill="#f0f0f0"/><rect x="473.5" y="92.8" width="7" height="1.0" fill="#e6e6e6" stroke="#f4f4f4" stroke-width="1"/><rect x="490" y="83.6" width="1" height="6.2" fill="#f0f0f0"/><rect x="486.5" y="85.1" width="7" height="3.8" fill="#e6e6e6" stroke="#f4f4f4" stroke-width="1"/><rect x="503" y="88.2" width="1" height="11.0" fill="#f0f0f0"/><rect x="499.5" y="88.7" width="7" height="5.8" fill="#1818d8" stroke="#e6e6ff" stroke-width="1"/><rect x="516" y="88.0" width="1" height="7.0" fill="#f0f0f0"/><rect x="512.5" y="90.3" width="7" height="1.1" fill="#e6e6e6" stroke="#f4f4f4" stroke-width="1"/><rect x="529" y="76.0" width="1" height="22.1" fill="#f0f0f0"/><rect x="525.5" y="87.2" width="7" height="5.8" fill="#1818d8" stroke="#e6e6ff" stroke-width="1"/><rect x="542" y="89.4" width="1" height="7.1" fill="#f0f0f0"/><rect x="538.5" y="91.4" width="7" height="4.6" fill="#e6e6e6" stroke="#f4f4f4" stroke-width="1"/><rect x="555" y="101.6" width="1" height="10.0" fill="#f0f0f0"/><rect x="551.5" y="102.1" width="7" height="4.9" fill="#1818d8" stroke="#e6e6ff" stroke-width="1"/><rect x="568" y="107.5" width="1" height="5.5" fill="#f0f0f0"/><rect x="564.5" y="110.7" width="7" height="1.8" fill="#1818d8" stroke="#e6e6ff" stroke-width="1"/><rect x="580" y="109.5" width="1" height="7.3" fill="#f0f0f0"/><rect x="576.5" y="110.0" width="7" height="3.2" fill="#1818d8" stroke="#e6e6ff" stroke-width="1"/><rect x="593" y="105.4" width="1" height="2.1" fill="#f0f0f0"/><rect x="589.5" y="105.9" width="7" height="1.1" fill="#e6e6e6" stroke="#f4f4f4" stroke-width="1"/><rect x="606" y="99.8" width="1" height="6.6" fill="#f0f0f0"/><rect x="602.5" y="100.3" width="7" height="1.9" fill="#e6e6e6" stroke="#f4f4f4" stroke-width="1"/><rect x="619" y="101.2" width="1" height="8.3" fill="#f0f0f0"/><rect x="615.5" y="103.8" width="7" height="1.7" fill="#1818d8" stroke="#e6e6ff" stroke-width="1"/><rect x="632" y="92.9" width="1" height="7.7" fill="#f0f0f0"/><rect x="628.5" y="93.4" width="7" height="6.7" fill="#e6e6e6" stroke="#f4f4f4" stroke-width="1"/><rect x="645" y="92.0" width="1" height="7.5" fill="#f0f0f0"/><rect x="641.5" y="92.7" width="7" height="3.9" fill="#1818d8" stroke="#e6e6ff" stroke-width="1"/></g>
<g font-size="11" fill="#f0f0f0"><text x="90" y="203">07/13 9050.33</text><text x="528" y="61">08/31</text><text x="528" y="75">10767.00</text><text x="450" y="131">08/21</text><text x="450" y="146">10142.22</text><text x="580" y="131">09/04</text><text x="580" y="146">10143.26</text></g>
<g font-size="11" fill="#8088d0" text-anchor="end"><text x="710" y="85">10444.33</text><text x="710" y="100">-69.34</text><text x="710" y="115">41411806</text></g>
<path d="M658 95.5 L663 92.5 L663 98.5 Z" fill="#8088d0"/>
<g class="lbg"><text class="lb" x="770" y="34">11400.00</text><text class="lb" x="770" y="73">10800.00</text><text class="lb" x="770" y="112">10200.00</text><text class="lb" x="770" y="152">9600.00</text><text class="lb" x="770" y="191">9000.00</text></g>
<g fill="#000"><rect x="102" y="207" width="26" height="15"/><rect x="260" y="207" width="21" height="15"/><rect x="386" y="207" width="26" height="15"/><rect x="530" y="207" width="21" height="15"/></g>
<g font-size="11" fill="#f0f0f0"><text x="104.5" y="220">15日</text><text x="263" y="220">8月</text><text x="388.5" y="220">15日</text><text x="533" y="220">9月</text></g>
<text x="5" y="39" font-size="11" fill="#f4f4f4" textLength="157" lengthAdjust="spacingAndGlyphs">ボリンジャーバンド，エンベロープ</text>
<g><rect x="774" y="80.00" width="37.8" height="5.9" fill="#d2d2d2"/><rect x="774" y="86.53" width="294.8" height="5.9" fill="#d2d2d2"/><rect x="774" y="93.06" width="243.0" height="5.9" fill="#d2d2d2"/><rect x="774" y="99.59" width="317.8" height="5.9" fill="#d2d2d2"/><rect x="774" y="106.12" width="267.9" height="5.9" fill="#d2d2d2"/><rect x="774" y="112.65" width="111.8" height="5.9" fill="#d2d2d2"/><rect x="774" y="119.18" width="75.0" height="5.9" fill="#d2d2d2"/><rect x="774" y="125.71" width="94.6" height="5.9" fill="#d2d2d2"/><rect x="774" y="132.24" width="75.8" height="5.9" fill="#d2d2d2"/><rect x="774" y="138.77" width="83.8" height="5.9" fill="#d2d2d2"/><rect x="774" y="145.30" width="110.7" height="5.9" fill="#d2d2d2"/><rect x="774" y="158.36" width="40.9" height="5.9" fill="#d2d2d2"/><rect x="774" y="164.89" width="75.8" height="5.9" fill="#d2d2d2"/><rect x="774" y="171.42" width="165.5" height="5.9" fill="#d2d2d2"/><rect x="774" y="184.48" width="44.7" height="5.9" fill="#d2d2d2"/></g>
<text x="778" y="40" font-size="11" fill="#f4f4f4" textLength="84" lengthAdjust="spacingAndGlyphs">価格帯出来高(100)</text>
<g fill="#000"><rect x="774" y="207" width="44" height="15"/><rect x="869" y="207" width="10" height="15"/><rect x="966" y="207" width="16" height="15"/><rect x="1063" y="207" width="16" height="15"/></g>
<g font-size="11" fill="#f0f0f0"><text x="775" y="220">(十億株)</text><text x="871" y="220">5</text><text x="967.5" y="220">10</text><text x="1064.5" y="220">15</text></g>
</g>
<g clip-path="url(#cR)">
<polyline fill="none" stroke="#38823c" stroke-width="1.3" points="0.0,292.5 14.2,290.8 27.0,287.5 39.9,290.8 52.8,294.2 65.6,297.5 78.5,301.0 91.4,301.0 104.3,294.2 117.1,302.0 130.0,302.0 142.9,298.2 155.7,294.9 168.6,291.5 181.5,287.5 194.3,280.7 207.2,273.3 220.1,272.3 233.0,262.2 245.8,255.4 258.7,252.0 271.6,238.5 284.4,238.5 297.3,247.0 310.2,247.0 323.1,247.0 335.9,248.0 348.8,249.7 361.7,259.8 374.5,260.5 387.4,262.2 400.3,278.0 413.1,280.0 426.0,284.1 438.9,284.1 451.8,289.1 464.6,280.7 477.5,279.0 490.4,278.0 503.2,284.1 516.1,284.8 529.0,286.8 541.8,282.4 554.7,290.8 567.6,293.5 580.4,286.8 593.3,283.4 606.2,281.4 619.1,286.8 631.9,277.3 644.8,290.1"/>
<polyline fill="none" stroke="#e2e290" stroke-width="1.3" points="0.0,275.6 14.2,277.3 27.0,281.4 39.9,283.1 52.8,290.8 65.6,290.8 78.5,292.5 91.4,294.9 104.3,291.5 117.1,292.5 130.0,293.2 142.9,291.8 155.7,290.2 168.6,289.1 181.5,290.2 194.3,285.8 207.2,280.0 220.1,281.4 233.0,278.3 245.8,279.0 258.7,276.7 271.6,272.3 284.4,272.3 297.3,277.3 310.2,276.3 323.1,274.6 335.9,274.6 348.8,274.0 361.7,274.6 374.5,273.3 387.4,269.6 400.3,274.6 413.1,270.6 426.0,268.9 438.9,267.2 451.8,265.5 464.6,264.5 477.5,266.5 490.4,265.5 503.2,268.9 516.1,271.3 529.0,273.0 541.8,273.0 554.7,280.0 567.6,283.1 580.4,283.1 593.3,282.4 606.2,281.7 619.1,286.8 631.9,283.1 644.8,284.7"/>
<text x="5" y="239" font-size="11" fill="#f4f4f4" textLength="17" lengthAdjust="spacingAndGlyphs">RSI</text>
<g><text class="lb" x="770" y="238">100</text><text class="lb" x="770" y="261">75</text><text class="lb" x="770" y="285">50</text><text class="lb" x="770" y="308">25</text><text class="lb" x="770" y="331">0</text></g>
<path d="M655 289.5 L660 286.5 L660 292.5 Z" fill="#5a9a5a"/><text x="662" y="293" font-size="11" fill="#6a9a6a">45.23</text>
</g>
<g clip-path="url(#cM)">
<g><rect x="-2" y="429" width="6" height="4.2" fill="#2a8ac6"/><rect x="11" y="429" width="6" height="5.8" fill="#2a8ac6"/><rect x="24" y="429" width="6" height="8.5" fill="#2a8ac6"/><rect x="37" y="429" width="6" height="10.9" fill="#2a8ac6"/><rect x="50" y="429" width="6" height="16.3" fill="#2a8ac6"/><rect x="63" y="429" width="6" height="21.4" fill="#2a8ac6"/><rect x="76" y="429" width="6" height="23.7" fill="#2a8ac6"/><rect x="88" y="429" width="6" height="28.1" fill="#2a8ac6"/><rect x="101" y="429" width="6" height="25.4" fill="#2a8ac6"/><rect x="114" y="429" width="6" height="23.0" fill="#2a8ac6"/><rect x="127" y="429" width="6" height="18.0" fill="#2a8ac6"/><rect x="140" y="429" width="6" height="12.9" fill="#2a8ac6"/><rect x="153" y="429" width="6" height="5.2" fill="#2a8ac6"/><rect x="166" y="429" width="6" height="1.0" fill="#2a8ac6"/><rect x="178" y="421.3" width="6" height="7.7" fill="#2a8ac6"/><rect x="191" y="415.0" width="6" height="14.0" fill="#2a8ac6"/><rect x="204" y="409.5" width="6" height="19.5" fill="#2a8ac6"/><rect x="217" y="407.2" width="6" height="21.8" fill="#2a8ac6"/><rect x="230" y="406.2" width="6" height="22.8" fill="#2a8ac6"/><rect x="243" y="405.5" width="6" height="23.5" fill="#2a8ac6"/><rect x="256" y="403.8" width="6" height="25.2" fill="#2a8ac6"/><rect x="269" y="403.1" width="6" height="25.9" fill="#2a8ac6"/><rect x="281" y="404.8" width="6" height="24.2" fill="#2a8ac6"/><rect x="294" y="409.5" width="6" height="19.5" fill="#2a8ac6"/><rect x="307" y="411.2" width="6" height="17.8" fill="#2a8ac6"/><rect x="320" y="412.9" width="6" height="16.1" fill="#2a8ac6"/><rect x="333" y="413.3" width="6" height="15.7" fill="#2a8ac6"/><rect x="346" y="414.0" width="6" height="15.0" fill="#2a8ac6"/><rect x="359" y="418.3" width="6" height="10.7" fill="#2a8ac6"/><rect x="372" y="420.7" width="6" height="8.3" fill="#2a8ac6"/><rect x="384" y="421.3" width="6" height="7.7" fill="#2a8ac6"/><rect x="397" y="429" width="6" height="0.0" fill="#2a8ac6"/><rect x="410" y="429" width="6" height="4.2" fill="#2a8ac6"/><rect x="423" y="429" width="6" height="9.6" fill="#2a8ac6"/><rect x="436" y="429" width="6" height="8.5" fill="#2a8ac6"/><rect x="449" y="429" width="6" height="11.2" fill="#2a8ac6"/><rect x="462" y="429" width="6" height="6.9" fill="#2a8ac6"/><rect x="474" y="429" width="6" height="5.2" fill="#2a8ac6"/><rect x="487" y="429" width="6" height="1.8" fill="#2a8ac6"/><rect x="500" y="429" width="6" height="2.8" fill="#2a8ac6"/><rect x="513" y="429" width="6" height="2.8" fill="#2a8ac6"/><rect x="526" y="429" width="6" height="4.2" fill="#2a8ac6"/><rect x="539" y="429" width="6" height="4.2" fill="#2a8ac6"/><rect x="552" y="429" width="6" height="8.5" fill="#2a8ac6"/><rect x="565" y="429" width="6" height="12.9" fill="#2a8ac6"/><rect x="577" y="429" width="6" height="15.3" fill="#2a8ac6"/><rect x="590" y="429" width="6" height="14.3" fill="#2a8ac6"/><rect x="603" y="429" width="6" height="11.9" fill="#2a8ac6"/><rect x="616" y="429" width="6" height="10.9" fill="#2a8ac6"/><rect x="629" y="429" width="6" height="6.9" fill="#2a8ac6"/><rect x="642" y="429" width="6" height="5.2" fill="#2a8ac6"/></g>
<path fill="none" stroke="#c0b4b4" stroke-width="1.2" d="M0.0,393.6 C6.0,394.4 25.1,395.2 36.3,398.1 C47.5,401.0 56.3,406.0 67.2,410.8 C78.1,415.6 91.7,422.4 101.7,427.2 C111.7,432.0 119.3,437.2 127.2,439.9 C135.1,442.6 139.9,443.4 149.0,443.5 C158.1,443.6 173.2,442.2 181.7,440.8 C190.2,439.4 193.8,437.3 200.0,435.4 C206.2,433.4 211.3,432.4 219.0,429.1 C226.7,425.8 237.2,419.8 246.0,415.6 C254.8,411.4 263.0,407.7 271.5,403.8 C280.0,399.9 288.1,395.6 296.8,392.0 C305.5,388.4 314.8,384.7 323.8,381.9 C332.8,379.1 342.4,376.9 350.8,375.1 C359.2,373.3 365.8,372.1 374.0,371.1 C382.2,370.2 391.2,368.6 400.0,369.4 C408.8,370.2 418.3,373.8 427.0,375.8 C435.7,377.8 443.6,379.9 452.0,381.2 C460.4,382.5 469.1,383.0 477.6,383.6 C486.1,384.2 494.6,384.2 503.0,384.6 C511.4,385.1 521.6,385.9 528.0,386.3 C534.4,386.7 534.8,385.8 541.6,387.0 C548.4,388.2 559.9,391.5 568.6,393.7 C577.3,395.9 585.6,398.3 594.0,400.4 C602.4,402.5 610.4,404.8 619.0,406.2 C627.6,407.6 641.1,408.4 645.5,408.9"/>
<path fill="none" stroke="#a82c2c" stroke-width="1.2" d="M0.0,397.8 C3.0,398.3 12.1,399.2 18.2,400.9 C24.2,402.6 29.3,404.0 36.3,408.1 C43.3,412.2 52.4,419.2 60.0,425.4 C67.6,431.6 75.0,440.7 81.7,445.4 C88.4,450.1 94.1,451.5 99.9,453.5 C105.7,455.5 109.0,456.6 116.3,457.2 C123.6,457.8 136.2,458.3 143.5,457.2 C150.8,456.1 153.5,454.6 159.9,450.8 C166.3,447.0 173.8,440.4 181.7,434.5 C189.6,428.6 198.9,421.6 207.4,415.6 C215.9,409.7 224.0,404.4 232.7,398.8 C241.4,393.2 251.3,386.1 259.7,381.9 C268.1,377.7 274.9,375.2 283.3,373.5 C291.7,371.8 301.1,372.9 310.0,371.8 C318.9,370.7 328.5,368.1 337.0,366.7 C345.5,365.3 352.5,364.1 361.0,363.3 C369.5,362.5 381.5,360.9 388.0,361.7 C394.5,362.5 393.5,364.5 400.0,368.4 C406.5,372.3 418.3,381.4 427.0,385.3 C435.7,389.2 443.6,391.7 452.0,392.0 C460.4,392.3 469.1,388.1 477.6,387.0 C486.1,385.9 494.6,385.3 503.0,385.3 C511.4,385.3 521.6,386.2 528.0,387.0 C534.4,387.8 534.8,386.9 541.6,390.3 C548.4,393.7 559.9,403.3 568.6,407.2 C577.3,411.1 585.6,412.4 594.0,413.9 C602.4,415.4 610.4,416.5 619.0,416.3 C627.6,416.1 641.1,413.5 645.5,412.9"/>
<text x="5" y="362" font-size="11" fill="#f4f4f4" textLength="29" lengthAdjust="spacingAndGlyphs">MACD</text>
<g><text class="lb" x="770" y="350">280.00</text><text class="lb" x="770" y="369">210.00</text><text class="lb" x="770" y="389">140.00</text><text class="lb" x="770" y="409">70.00</text><text class="lb" x="770" y="428">0.00</text><text class="lb" x="770" y="448">-70.00</text><text class="lb" x="770" y="468">-140.00</text></g>
<path d="M655 407.5 L660 404.5 L660 410.5 Z" fill="#d0d0d0"/><text x="662" y="411" font-size="11" fill="#d0d0d0">71.58</text>
</g>
<g clip-path="url(#cO)">
<polyline fill="none" stroke="#902a2a" stroke-width="1.2" points="0.0,526.6 14.2,532.4 27.0,544.1 39.9,548.0 52.8,559.8 65.6,562.5 78.5,565.6 91.4,582.4 104.3,569.5 117.1,578.5 130.0,573.4 142.9,579.3 155.7,561.7 168.6,546.1 181.5,548.0 194.3,534.4 207.2,531.7 220.1,534.4 233.0,520.0 245.8,520.0 258.7,520.0 271.6,524.6 284.4,518.8 297.3,531.7 310.2,524.6 323.1,520.7 335.9,513.7 348.8,505.9 361.7,509.8 374.5,495.4 387.4,487.6 400.3,499.3 413.1,490.3 426.0,503.2 438.9,495.4 451.8,505.1 464.6,492.6 477.5,508.2 490.4,504.3 503.2,516.0 516.1,520.0 529.0,526.6 541.8,526.6 554.7,538.3 567.6,543.4 580.4,552.7 593.3,546.9 606.2,544.9 619.1,543.0 631.9,540.2 644.8,544.6"/>
<text x="5" y="488" font-size="11" fill="#f4f4f4" textLength="50" lengthAdjust="spacingAndGlyphs">モメンタム</text>
<g><text class="lb" x="770" y="474.5">1600.00</text><text class="lb" x="770" y="491">1200.00</text><text class="lb" x="770" y="509">800.00</text><text class="lb" x="770" y="527">400.00</text><text class="lb" x="770" y="545">0.00</text><text class="lb" x="770" y="563">-400.00</text><text class="lb" x="770" y="581">-800.00</text><text class="lb" x="770" y="598">-1200.00</text></g>
<path d="M655 542.5 L660 539.5 L660 545.5 Z" fill="#a03040"/><text x="662" y="546" font-size="11" fill="#8a3040">32.24</text>
</g>
<g clip-path="url(#cV)">
<g><rect x="0" y="636.9" width="4" height="70.6" fill="#1c62d8"/><rect x="11" y="643.6" width="6" height="63.9" fill="#1c62d8"/><rect x="24" y="651.4" width="6" height="56.1" fill="#1c62d8"/><rect x="37" y="638.0" width="6" height="69.5" fill="#1c62d8"/><rect x="50" y="634.8" width="6" height="72.7" fill="#1c62d8"/><rect x="63" y="636.1" width="6" height="71.4" fill="#1c62d8"/><rect x="76" y="636.9" width="6" height="70.6" fill="#1c62d8"/><rect x="88" y="626.8" width="6" height="80.7" fill="#1c62d8"/><rect x="101" y="631.0" width="6" height="76.5" fill="#1c62d8"/><rect x="114" y="632.1" width="6" height="75.4" fill="#1c62d8"/><rect x="127" y="629.4" width="6" height="78.1" fill="#1c62d8"/><rect x="140" y="650.9" width="6" height="56.6" fill="#1c62d8"/><rect x="153" y="636.9" width="6" height="70.6" fill="#1c62d8"/><rect x="166" y="636.1" width="6" height="71.4" fill="#1c62d8"/><rect x="178" y="630.0" width="6" height="77.5" fill="#1c62d8"/><rect x="191" y="618.7" width="6" height="88.8" fill="#1c62d8"/><rect x="204" y="636.7" width="6" height="70.8" fill="#1c62d8"/><rect x="217" y="645.5" width="6" height="62.0" fill="#1c62d8"/><rect x="230" y="640.7" width="6" height="66.8" fill="#1c62d8"/><rect x="243" y="640.7" width="6" height="66.8" fill="#1c62d8"/><rect x="256" y="624.9" width="6" height="82.6" fill="#1c62d8"/><rect x="269" y="634.0" width="6" height="73.5" fill="#1c62d8"/><rect x="281" y="626.2" width="6" height="81.3" fill="#1c62d8"/><rect x="294" y="641.8" width="6" height="65.7" fill="#1c62d8"/><rect x="307" y="639.9" width="6" height="67.6" fill="#1c62d8"/><rect x="320" y="642.5" width="6" height="65.0" fill="#1c62d8"/><rect x="333" y="639.4" width="6" height="68.1" fill="#1c62d8"/><rect x="346" y="641.9" width="6" height="65.6" fill="#1c62d8"/><rect x="359" y="646.1" width="6" height="61.4" fill="#1c62d8"/><rect x="372" y="641.4" width="6" height="66.1" fill="#1c62d8"/><rect x="384" y="637.2" width="6" height="70.3" fill="#1c62d8"/><rect x="397" y="640.0" width="6" height="67.5" fill="#1c62d8"/><rect x="410" y="644.1" width="6" height="63.4" fill="#1c62d8"/><rect x="423" y="633.1" width="6" height="74.4" fill="#1c62d8"/><rect x="436" y="635.9" width="6" height="71.6" fill="#1c62d8"/><rect x="449" y="632.3" width="6" height="75.2" fill="#1c62d8"/><rect x="462" y="647.7" width="6" height="59.8" fill="#1c62d8"/><rect x="474" y="644.1" width="6" height="63.4" fill="#1c62d8"/><rect x="487" y="640.0" width="6" height="67.5" fill="#1c62d8"/><rect x="500" y="637.5" width="6" height="70.0" fill="#1c62d8"/><rect x="513" y="641.9" width="6" height="65.6" fill="#1c62d8"/><rect x="526" y="633.9" width="6" height="73.6" fill="#1c62d8"/><rect x="539" y="651.0" width="6" height="56.5" fill="#1c62d8"/><rect x="552" y="640.5" width="6" height="67.0" fill="#1c62d8"/><rect x="565" y="648.3" width="6" height="59.2" fill="#1c62d8"/><rect x="577" y="641.9" width="6" height="65.6" fill="#1c62d8"/><rect x="590" y="655.7" width="6" height="51.8" fill="#1c62d8"/><rect x="603" y="644.1" width="6" height="63.4" fill="#1c62d8"/><rect x="616" y="639.2" width="6" height="68.3" fill="#1c62d8"/><rect x="629" y="640.0" width="6" height="67.5" fill="#1c62d8"/><rect x="642" y="611.9" width="6" height="95.6" fill="#1c62d8"/></g>
<text x="5" y="612" font-size="11" fill="#f4f4f4" textLength="30" lengthAdjust="spacingAndGlyphs">出来高</text>
<g><text class="lb" x="770" y="625">24.0</text><text class="lb" x="770" y="645">18.0</text><text class="lb" x="770" y="666">12.0</text><text class="lb" x="770" y="686">6.0</text><text class="lb" x="770" y="707">億株</text></g>
</g>
<rect x="0" y="222" width="1114" height="2" fill="#f4f4f4"/>
<rect x="0" y="347" width="773" height="2" fill="#f4f4f4"/>
<rect x="0" y="472" width="773" height="2" fill="#f4f4f4"/>
<rect x="0" y="597" width="773" height="2" fill="#f4f4f4"/>
<defs><linearGradient id="sl" x1="0" y1="0" x2="0" y2="1"><stop offset="0" stop-color="#9fb0c4"/><stop offset="0.35" stop-color="#f4f8fc"/><stop offset="0.7" stop-color="#c8d4e0"/><stop offset="1" stop-color="#6a7888"/></linearGradient><linearGradient id="sc" x1="0" y1="0" x2="0" y2="1"><stop offset="0" stop-color="#f4f6fa"/><stop offset="1" stop-color="#f0eaee"/></linearGradient></defs>
<rect x="0" y="722" width="1114" height="13" fill="url(#sc)"/>
<rect x="0" y="722" width="1114" height="1" fill="#c6d2e0"/>
<rect x="0" y="734" width="1114" height="1" fill="#8a98a8"/>
<rect x="2" y="723" width="15" height="11" fill="#f8f8f8" stroke="#b8c0cc" stroke-width="1"/>
<path d="M6.5 728.5 L10 725.5 L10 731.5 Z" fill="#222"/>
<rect x="1080.5" y="723.5" width="16" height="10" fill="#dce6f2" stroke="#a8b8cc" stroke-width="1"/>
<g fill="#6a7a90"><rect x="1085" y="726" width="1" height="5"/><rect x="1088" y="726" width="1" height="5"/><rect x="1091" y="726" width="1" height="5"/></g>
<rect x="1097.5" y="723.5" width="15" height="10" fill="#f4f4f4" stroke="#b8c0cc" stroke-width="1"/>
<path d="M1107 728.5 L1103.5 725.5 L1103.5 731.5 Z" fill="#222"/>
<rect x="0" y="735" width="1114" height="2" fill="#e8eef4"/>
<rect x="1" y="737" width="1111" height="12" fill="#2c3036"/>
<rect x="1" y="737" width="7" height="12" fill="#3a3e44"/>
<rect x="8" y="740" width="543" height="6" fill="url(#sl)"/>
<rect x="564" y="740" width="541" height="2" fill="#8c9096"/>
<rect x="564" y="742" width="541" height="2.5" fill="#40454c"/>
<rect x="564" y="744.5" width="541" height="1.5" fill="#70747a"/>
<rect x="1105" y="737" width="7" height="12" fill="#3a3a3a"/>
<path d="M551 737 H564 V741 L557.5 748.5 L551 741 Z" fill="#f6f8fc" stroke="#d0d8e4" stroke-width="0.6"/>
<rect x="0" y="749" width="1114" height="1.5" fill="#f0f0f0"/>
<rect x="1" y="750.5" width="1111" height="14.5" fill="#000"/>
<g font-size="11" fill="#f0f0f0"><text x="89" y="762">2年</text><text x="366" y="762">半年</text><text x="505" y="762">3ヶ月</text></g>
<rect x="0" y="765" width="1114" height="5" fill="#e8eef4"/>
<rect x="0" y="770" width="1118" height="1" fill="#8090a0"/>
<rect x="0" y="722" width="1" height="49" fill="#dde6f0"/>
<rect x="1114" y="21" width="4" height="750" fill="#dde6f0"/>
<rect x="1115" y="21" width="1" height="750" fill="#f4f7fa"/>
<rect x="1116" y="21" width="1" height="750" fill="#b8c2cc"/>
<rect x="1117" y="21" width="1" height="750" fill="#5a6470"/>
<rect x="1118" y="0" width="115" height="771" fill="#4a4a4a"/>
<rect x="1118" y="21" width="1" height="750" fill="#40464c"/>
<rect x="1231" y="0" width="2" height="771" fill="#535353"/>
<rect x="1116" y="0" width="2" height="21" fill="#3c3c3c"/>
<rect x="1119.5" y="2.5" width="94" height="17" fill="#f2eeee" stroke="#9aa4b0" stroke-width="1"/>
<rect x="1214" y="2" width="19" height="18" fill="#e4e8ee"/><rect x="1214" y="2" width="1" height="18" fill="#c0c8d2"/><path d="M1218 9 L1228 9 L1223 14 Z" fill="#222"/>
<text x="1122" y="15.5" font-size="12.5" fill="#111" textLength="47" lengthAdjust="spacingAndGlyphs">日経平均</text>
<rect x="1119" y="22" width="51" height="19" fill="#aebcd0"/>
<rect x="1170" y="22" width="19" height="19" fill="#e4e8ee"/><path d="M1175 29 L1184 29 L1179.5 34 Z" fill="#222"/>
<text x="1122" y="36" font-size="12.5" fill="#1a2a3a" textLength="23" lengthAdjust="spacingAndGlyphs">日足</text>
<defs><linearGradient id="ib" x1="0" y1="0" x2="0" y2="1"><stop offset="0" stop-color="#707070"/><stop offset="0.45" stop-color="#3a3a3a"/><stop offset="1" stop-color="#0e0e0e"/></linearGradient><linearGradient id="pen" x1="0" y1="1" x2="1" y2="0"><stop offset="0" stop-color="#c8e070"/><stop offset="1" stop-color="#5aa020"/></linearGradient><radialGradient id="gear" cx="0.4" cy="0.35" r="0.7"><stop offset="0" stop-color="#fff080"/><stop offset="0.6" stop-color="#f0b820"/><stop offset="1" stop-color="#a06810"/></radialGradient></defs>
<rect x="1119.5" y="44.5" width="25" height="26" fill="url(#ib)" stroke="#7a7a7a" stroke-width="1"/>
<rect x="1147.5" y="44.5" width="25" height="26" fill="url(#ib)" stroke="#7a7a7a" stroke-width="1"/>
<rect x="1175.5" y="44.5" width="25" height="26" fill="url(#ib)" stroke="#7a7a7a" stroke-width="1"/>
<rect x="1119.5" y="71.5" width="25" height="26" fill="url(#ib)" stroke="#7a7a7a" stroke-width="1"/>
<rect x="1147.5" y="71.5" width="25" height="26" fill="url(#ib)" stroke="#7a7a7a" stroke-width="1"/>
<rect x="1175.5" y="71.5" width="25" height="26" fill="url(#ib)" stroke="#7a7a7a" stroke-width="1"/>
<path d="M1123 67 L1125 61 L1139 48 L1143 52 L1129 65 Z" fill="url(#pen)"/><path d="M1123 67 L1125 61 L1129 65 Z" fill="#e8e0a0"/>
<path d="M1152 62 L1163 52 L1170 57 L1159 67 Z" fill="#2a8ee0"/><path d="M1150 62 L1155 57.5 L1162 63 L1157 67.5 Z" fill="#f4f4f4"/>
<circle cx="1186" cy="55" r="6" fill="#9a9a9a" opacity="0.8"/><path d="M1177 46 L1199 69" stroke="#000" stroke-width="1.6"/>
<g transform="translate(1132,85)"><g fill="url(#gear)"><rect x="-2" y="-10.5" width="4" height="5" transform="rotate(0)"/><rect x="-2" y="-10.5" width="4" height="5" transform="rotate(45)"/><rect x="-2" y="-10.5" width="4" height="5" transform="rotate(90)"/><rect x="-2" y="-10.5" width="4" height="5" transform="rotate(135)"/><rect x="-2" y="-10.5" width="4" height="5" transform="rotate(180)"/><rect x="-2" y="-10.5" width="4" height="5" transform="rotate(225)"/><rect x="-2" y="-10.5" width="4" height="5" transform="rotate(270)"/><rect x="-2" y="-10.5" width="4" height="5" transform="rotate(315)"/><circle r="8"/></g><circle r="3.2" fill="#2a1a08"/></g>
<rect x="1152" y="81" width="17" height="10" fill="#909090" stroke="#b0b0b0" stroke-width="0.8"/><path d="M1149 73 L1171 96" stroke="#000" stroke-width="1.6"/>
<rect x="1184" y="75" width="9" height="6" fill="#f0f0f0"/><rect x="1180" y="81" width="17" height="6" rx="1.5" fill="#f4f4f4"/><rect x="1181.5" y="83" width="14" height="1.5" fill="#222"/><rect x="1184" y="87" width="9" height="6" fill="#e0e0e0"/><rect x="1185" y="89" width="7" height="2" fill="#555"/>
<text class="sb" x="1120" y="113">09/07/01</text><text class="sb" x="1169" y="113" textLength="12" lengthAdjust="spacingAndGlyphs">～</text><text class="sr" x="1232" y="113">09/09/11</text>
<text class="sb" x="1120" y="130">日付</text>
<text class="sr" x="1234" y="130" fill="#f0f0f0" style="fill:#f0f0f0">09/09/11</text>
<text class="sb" x="1120" y="146">始値</text>
<text class="sr" x="1234" y="146" fill="#f0f0f0" style="fill:#f0f0f0">10519.33</text>
<text class="sb" x="1120" y="162">高値</text>
<text class="sr" x="1234" y="162" fill="#f0f0f0" style="fill:#f0f0f0">10522.23</text>
<text class="sb" x="1120" y="178">安値</text>
<text class="sr" x="1234" y="178" fill="#f0f0f0" style="fill:#f0f0f0">10407.97</text>
<text class="sb" x="1120" y="194">終値</text>
<text class="sr" x="1234" y="194" fill="#e8e830" style="fill:#e8e830">10444.33</text>
<text class="sb" x="1120" y="210">前日比</text>
<text class="sr" x="1234" y="210" fill="#f0f0f0" style="fill:#f0f0f0">-69.34</text>
<text class="sb" x="1120" y="226">MA(25,C)</text>
<rect x="1120" y="228" width="52" height="1" fill="#c03030"/>
<text class="sr" x="1234" y="226" fill="#f0f0f0" style="fill:#f0f0f0">10418.15</text>
<text class="sb" x="1120" y="242">MA(75,C)</text>
<rect x="1120" y="244" width="52" height="1" fill="#3a80c0"/>
<text class="sr" x="1234" y="242" fill="#f0f0f0" style="fill:#f0f0f0">10010.50</text>
<text class="sb" x="1120" y="258">+2.0σ</text>
<rect x="1120" y="260" width="32" height="1" fill="#c03030"/>
<text class="sr" x="1234" y="258" fill="#f0f0f0" style="fill:#f0f0f0">10695.76</text>
<text class="sb" x="1120" y="274">MA(25,C)</text>
<rect x="1120" y="276" width="52" height="1" fill="#e0e0e0"/>
<text class="sr" x="1234" y="274" fill="#f0f0f0" style="fill:#f0f0f0">10418.15</text>
<text class="sb" x="1120" y="290">-2.0σ</text>
<rect x="1120" y="292" width="30" height="1" fill="#30a0a0"/>
<text class="sr" x="1234" y="290" fill="#f0f0f0" style="fill:#f0f0f0">10140.54</text>
<text class="sb" x="1120" y="306">MA+6.0%</text>
<rect x="1120" y="308" width="51" height="1" fill="#b83030"/>
<text class="sr" x="1234" y="306" fill="#f0f0f0" style="fill:#f0f0f0">11043.24</text>
<text class="sb" x="1120" y="322">MA+3.0%</text>
<rect x="1120" y="324" width="51" height="1" fill="#e0c8c8"/>
<text class="sr" x="1234" y="322" fill="#f0f0f0" style="fill:#f0f0f0">10730.69</text>
<text class="sb" x="1120" y="338">MA(25,C)</text>
<rect x="1120" y="340" width="52" height="1" fill="#e0e0e0"/>
<text class="sr" x="1234" y="338" fill="#f0f0f0" style="fill:#f0f0f0">10418.15</text>
<text class="sb" x="1120" y="354">MA-3.0%</text>
<rect x="1120" y="356" width="48" height="1" fill="#80b0d0"/>
<text class="sr" x="1234" y="354" fill="#f0f0f0" style="fill:#f0f0f0">10105.61</text>
<text class="sb" x="1120" y="370">MA-6.0%</text>
<rect x="1120" y="372" width="48" height="1" fill="#30a0a0"/>
<text class="sr" x="1234" y="370" fill="#f0f0f0" style="fill:#f0f0f0">9793.06</text>
<text class="sb" x="1120" y="386">RSI(14)</text>
<rect x="1120" y="388" width="38" height="1" fill="#40a040"/>
<text class="sr" x="1234" y="386" fill="#f0f0f0" style="fill:#f0f0f0">45.23</text>
<text class="sb" x="1120" y="402">RSI(28)</text>
<rect x="1120" y="404" width="38" height="1" fill="#e0e060"/>
<text class="sr" x="1234" y="402" fill="#f0f0f0" style="fill:#f0f0f0">51.05</text>
<text class="sb" x="1120" y="418">MACD(12-26,C)</text>
<rect x="1120" y="420" width="69" height="1" fill="#c03030"/>
<text class="sr" x="1234" y="434" fill="#f0f0f0" style="fill:#f0f0f0">52.77</text>
<text class="sb" x="1120" y="450">SIG(9)</text>
<rect x="1120" y="452" width="36" height="1" fill="#e0e0e0"/>
<text class="sr" x="1234" y="450" fill="#f0f0f0" style="fill:#f0f0f0">71.58</text>
<text class="sb" x="1120" y="466">MACDH(1.0)</text>
<rect x="1120" y="468" width="65" height="1" fill="#3a90d0"/>
<text class="sr" x="1234" y="466" fill="#f0f0f0" style="fill:#f0f0f0">-18.81</text>
<text class="sb" x="1120" y="482">ﾓﾒﾝﾀﾑ(25)</text>
<rect x="1120" y="484" width="52" height="1" fill="#c03030"/>
<text class="sr" x="1234" y="482" fill="#f0f0f0" style="fill:#f0f0f0">32.24</text>
<text class="sb" x="1120" y="498">出来高</text>
<rect x="1120" y="500" width="36" height="1" fill="#3a70d0"/>
<text class="sb" x="1120" y="530">価格帯</text>
<rect x="1120" y="532" width="36" height="1" fill="#f0f0f0"/>
<text class="sb" x="1120" y="546">価格帯</text>
<rect x="1120" y="548" width="36" height="1" fill="#f0f0f0"/>
<text class="sb" x="1120" y="562">出来高</text>
<rect x="1120" y="564" width="36" height="1" fill="#f0f0f0"/>
<text class="sb" x="1142" y="514" textLength="92" lengthAdjust="spacingAndGlyphs">2,788,770,000株</text>
</svg>
</body></html>
